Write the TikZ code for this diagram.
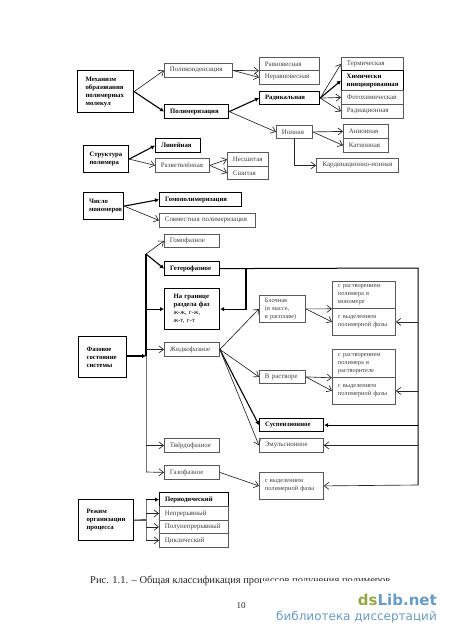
\documentclass[tikz,border=0pt]{standalone}
\usepackage{fontspec}
\setmainfont{Liberation Serif}
\setsansfont{DejaVu Sans}
\usepackage{xcolor}
\usetikzlibrary{arrows.meta,positioning}
\definecolor{logogreen}{RGB}{150,168,70}
\definecolor{logoblue}{RGB}{105,155,195}
\tikzset{
  box/.style={draw=black!65,line width=0.8pt,anchor=north west,inner xsep=5.5pt,inner ysep=0pt,align=left,
    text=black!75,font=\fontsize{6.9}{8}\selectfont,minimum height=14pt},
  longbox/.style={box,font=\fontsize{6.4}{8}\selectfont,minimum height=27pt},
  boldbox/.style={box,draw=black,line width=1.2pt,text=black,font=\fontsize{6.7}{8}\selectfont\bfseries},
  thin/.style={draw=black!85,line width=0.65pt,-{Straight Barb[length=4.5pt,width=7pt]}},
  thick/.style={draw=black,line width=1.1pt,-{Latex[length=4pt,width=4.5pt]}},
  thickline/.style={draw=black,line width=1.1pt},
  grayline/.style={draw=black!55,line width=1pt}
}
\begin{document}
\begin{tikzpicture}[x=1pt,y=-1pt]
      \useasboundingbox[fill=white] (0,0) rectangle (450,637);
      % Mechanism
      \node[boldbox,text width=40pt,minimum height=42pt,inner xsep=8pt] (mech) at (77,70) {Механизм\\образования\\полимерных\\молекул};
      \node[box,text width=57pt] (polycond) at (164,63) {Поликонденсация};
      \node[boldbox,text width=53pt] (polymer) at (164,104) {Полимеризация};
      \node[box,text width=49pt,minimum height=13pt] (equil) at (259,57) {Равновесная};
      \node[box,text width=49pt] (nonequil) at (259,70) {Неравновесная};
      \node[boldbox,text width=49pt,minimum height=13pt] (radical) at (259,91) {Радикальная};
      \node[box,text width=51pt,minimum height=13pt] (thermal) at (341,57) {Термическая};
      \node[boldbox,minimum width=62pt,minimum height=20pt,inner xsep=5pt] (chem) at (341,70) {Химически\\инициированная};
      \node[box,text width=51pt] (photo) at (341,90) {Фотохимическая};
      \node[box,text width=51pt] (radiat) at (341,104) {Радиационная};
      \node[box,text width=25pt,minimum height=13pt] (ionic) at (276,125) {Ионная};
      \node[box,text width=34pt] (anion) at (343,124) {Анионная};
      \node[box,text width=34pt] (cation) at (343,138) {Катионная};
      \node[box,minimum width=82pt,inner xsep=2pt,align=center] (coord) at (316,158) {Кардинационно-ионная};
      \draw[thin] (mech.east) -- (polycond.west);
      \draw[thick] (mech.east) -- (polymer.west);
      \draw[thin] (polycond.east) -- (equil.south west);
      \draw[thin] (polycond.east) -- (nonequil.west);
      \draw[thick] (polymer.east) -- (radical.west);
      \draw[thin] (polymer.east) -- (ionic.west);
      \draw[thin] (radical.east) -- (thermal.west);
      \draw[thick] (radical.east) -- (chem.west);
      \draw[thin] (radical.east) -- (photo.west);
      \draw[thin] (radical.east) -- (radiat.west);
      \draw[thin] (ionic.east) -- (anion.west);
      \draw[thin] (ionic.east) -- (cation.west);
      \draw[thin] (ionic.south) |- (coord.west);
      % Structure
      \node[boldbox,text width=33pt,minimum height=27pt,inner xsep=6pt] (struct) at (83,145) {Структура\\полимера};
      \node[boldbox,text width=34pt] (linear) at (155,138) {Линейная};
      \node[box,text width=43pt] (branch) at (155,158) {Разветвлённая};
      \node[box,text width=30pt] (noncross) at (227,152) {Несшитая};
      \node[box,text width=30pt,minimum height=13pt] (cross) at (227,166) {Сшитая};
      \draw[thick] (struct.east) -- (linear.west);
      \draw[thin] (struct.east) -- (branch.west);
      \draw[thin] (branch.east) -- (noncross.west);
      \draw[thin] (branch.east) -- (cross.west);
      % Monomers
      \node[boldbox,text width=29pt,minimum height=27pt] (monom) at (83,192) {Число\\мономеров};
      \node[boldbox,text width=71pt] (homo) at (159,192) {Гомополимеризация};
      \node[box,text width=85pt] (copol) at (159,213) {Совместная полимеризация};
      \draw[thick] (monom.east) -- (homo.west);
      \draw[thin] (monom.east) -- (copol.west);
      % Phase state
      \node[boldbox,text width=32pt,minimum height=41pt,inner xsep=8pt] (phase) at (78,336) {Фазовое\\состояние\\системы};
      \node[box,text width=44pt,minimum height=13pt] (homoph) at (164,234) {Гомофазное};
      \node[boldbox,text width=44pt] (hetero) at (164,261) {Гетерофазное};
      \node[boldbox,minimum height=41pt,minimum width=55pt,inner xsep=9pt,text width=37pt] (border) at (164,288) {На границе\\раздела фаз\\{\mdseries ж-ж, г-ж,}\\{\mdseries ж-т, г-т}};
      \node[box,text width=44pt] (liquid) at (164,342) {Жидкофазное};
      \node[box,text width=44pt] (solid) at (164,438) {Твёрдофазное};
      \node[box,text width=44pt] (gas) at (164,465) {Газофазное};
      \node[longbox,text width=35pt] (block) at (259,295) {Блочная\\(в массе,\\в расплаве)};
      \node[box,text width=35pt,minimum height=13pt] (solut) at (259,370) {В растворе};
      \node[boldbox,text width=53pt,minimum height=13pt] (susp) at (259,418) {Суспензионное};
      \node[box,text width=53pt] (emuls) at (259,438) {Эмульсионное};
      \node[longbox,text width=53pt] (gasfr) at (259,472) {с выделением\\полимерной фазы};
      \node[longbox,text width=52pt] (blockdis) at (332,281) {с растворением\\полимера в\\мономере};
      \node[longbox,text width=52pt] (blockfr) at (332,308) {с выделением\\полимерной фазы};
      \node[longbox,text width=52pt,minimum height=28pt] (soldis) at (332,349) {с растворением\\полимера в\\растворителе};
      \node[longbox,text width=52pt] (solfr) at (332,377) {с выделением\\полимерной фазы};
      % trunk
      \coordinate (trunktop) at (146,254);
      \coordinate (trunkin) at (146,356);
      \coordinate (trunkbot) at (146,472);
      \coordinate (rtop) at (418,268);
      \coordinate (rbot) at (418,485);
      \coordinate (hbranch) at (246,268);
      \draw[thickline] (trunktop) -- (trunkin);
      \draw[grayline] (trunkin) -- (trunkbot);
      \draw[thick] (phase.east|-trunkin) -- (trunkin);
      \draw[thin] (trunktop) -- (homoph.west);
      \draw[thick] (trunktop) -- (hetero.west);
      \draw[thick,line width=0.8pt] (trunktop|-border.west) -- (border.west);
      \draw[thin] (trunktop|-liquid.west) -- (liquid.west);
      \draw[thin] (trunktop|-solid.west) -- (solid.west);
      \draw[thin] (trunkbot) -- (gas.west);
      \draw[thickline,line width=1pt] (hetero.east) -- (rtop) -- (rbot);
      \draw[thick] (hbranch) |- (border.east);
      \draw[thin] (liquid.east) -- (block.west);
      \draw[thin] (liquid.east) -- (solut.west);
      \draw[thick] (liquid.east) -- (susp.west);
      \draw[thin] (liquid.east) -- (emuls.west);
      \draw[thin] (gas.east) -- (gasfr.west);
      \draw[thin] (block.east) -- (blockdis.south west);
      \draw[thin] (block.east) -- (blockfr.west);
      \draw[thin] (solut.east) -- (soldis.south west);
      \draw[thin] (solut.east) -- (solfr.west);
      \draw[thin] (rtop|-blockfr.east) -- (blockfr.east);
      \draw[thin] (rtop|-solfr.east) -- (solfr.east);
      \draw[thick] (rtop|-susp.east) -- (susp.east);
      \draw[thin] (rtop|-emuls.east) -- (emuls.east);
      \draw[thin] (rbot) -- (gasfr.east);
      % Process mode
      \node[boldbox,text width=39pt,minimum height=41pt,inner xsep=8pt] (mode) at (78,499) {Режим\\организации\\процесса};
      \node[boldbox,text width=58pt] (period) at (159,492) {Периодический};
      \node[box,text width=58pt] (contin) at (159,506) {Непрерывный};
      \node[box,text width=58pt,minimum height=13pt] (semi) at (159,520) {Полунепрерывный};
      \node[box,text width=58pt] (cycl) at (159,533) {Циклический};
      \coordinate (modein) at (146,520);
      \draw[thickline] (mode.east) -- (modein);
      \draw[grayline] (modein|-period.west) -- (modein|-cycl.west);
      \draw[thick] (modein|-period.west) -- (period.west);
      \draw[thin] (modein|-contin.west) -- (contin.west);
      \draw[thin] (modein|-semi.west) -- (semi.west);
      \draw[thin] (modein|-cycl.west) -- (cycl.west);
      % Caption
      \node[anchor=base west,inner sep=0pt,font=\fontsize{10.5}{12}\selectfont,text=black!85] (caption) at (90,583) {Рис. 1.1. – Общая классификация процессов получения полимеров};
      \fill[white] (262,581) rectangle (400,590);
      \node[anchor=base,inner sep=0pt,font=\fontsize{9}{11}\selectfont,text=black!85] (pagenum) at (241,608) {10};
      % Logo
      \node[anchor=base east,inner sep=0pt,font=\sffamily\bfseries\fontsize{15}{17}\selectfont,text=logoblue] (logoname) at (437,605) {\textcolor{logogreen}{ds}Lib.net};
      \node[anchor=base east,inner sep=0pt,font=\sffamily\fontsize{12}{14}\selectfont,text=logoblue] (logosub) at (437,620) {библиотека диссертаций};
\end{tikzpicture}
\end{document}
